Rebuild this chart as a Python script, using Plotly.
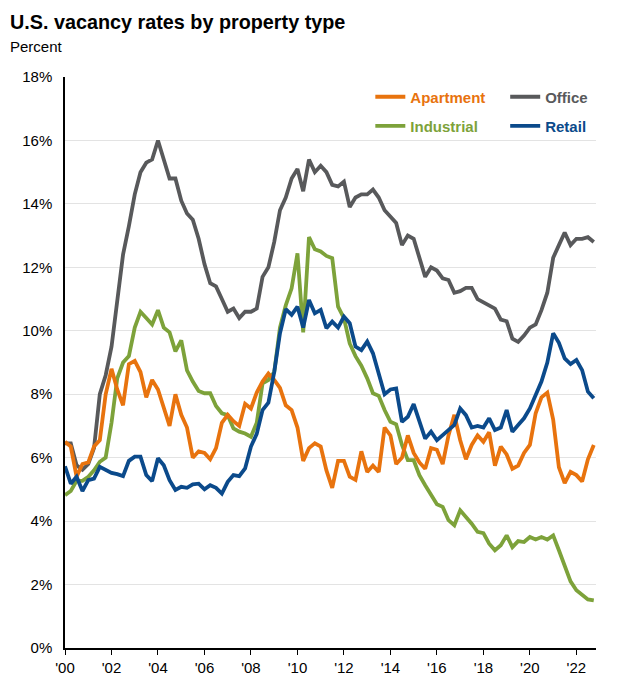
import pandas as pd
import plotly.graph_objects as go

# Quartalswerte 2000 Q1 bis 2022 Q4, Leerstandsquote in Prozent
quartale = pd.date_range("2000-01-01", periods=92, freq="QS")

apartment = [6.5, 6.35, 5.4, 5.8, 5.85, 6.35, 6.55, 8.0, 8.8, 8.15, 7.65, 8.95, 9.05, 8.7, 7.9, 8.45,
             8.15, 7.55, 7.0, 8.0, 7.35, 6.95, 6.0, 6.2, 6.15, 5.95, 6.3, 7.1, 7.35, 7.15, 7.0, 7.7,
             7.55, 8.05, 8.4, 8.65, 8.45, 8.2, 7.65, 7.5, 6.95, 5.9, 6.3, 6.45, 6.35, 5.6, 5.05, 5.9,
             5.9, 5.4, 5.3, 6.2, 5.55, 5.75, 5.55, 6.95, 6.7, 5.8, 6.0, 6.7, 6.15, 5.85, 5.65, 6.3,
             6.25, 5.8, 6.7, 7.35, 6.55, 5.95, 6.4, 6.7, 6.5, 6.8, 5.75, 6.35, 6.1, 5.65, 5.75, 6.15,
             6.4, 7.4, 7.9, 8.05, 7.2, 5.7, 5.2, 5.55, 5.45, 5.25, 5.95, 6.4]

office = [6.45, 6.45, 5.76, 5.62, 5.8, 6.3, 8.0, 8.6, 9.5, 11.0, 12.4, 13.3, 14.3, 15.0, 15.3, 15.4,
          16.0, 15.4, 14.8, 14.8, 14.1, 13.7, 13.5, 12.9, 12.1, 11.5, 11.4, 11.0, 10.6, 10.7, 10.4, 10.6,
          10.6, 10.7, 11.7, 12.0, 12.8, 13.8, 14.2, 14.8, 15.1, 14.4, 15.4, 15.0, 15.2, 15.0, 14.6, 14.55,
          14.7, 13.9, 14.2, 14.3, 14.3, 14.45, 14.2, 13.8, 13.6, 13.4, 12.7, 13.0, 12.9, 12.3, 11.7, 12.0,
          11.9, 11.65, 11.6, 11.2, 11.25, 11.35, 11.35, 11.0, 10.9, 10.8, 10.7, 10.35, 10.3, 9.75, 9.65, 9.85,
          10.1, 10.2, 10.65, 11.2, 12.3, 12.7, 13.1, 12.7, 12.9, 12.9, 12.95, 12.8]

industrial = [4.82, 4.95, 5.27, 5.27, 5.4, 5.6, 5.87, 6.0, 7.1, 8.5, 9.0, 9.2, 10.1, 10.6, 10.4, 10.2,
              10.65, 10.1, 9.95, 9.35, 9.7, 8.75, 8.4, 8.1, 8.03, 8.03, 7.63, 7.4, 7.34, 6.92, 6.82, 6.76,
              6.66, 7.1, 8.34, 8.45, 8.7, 10.1, 10.8, 11.34, 12.44, 9.95, 12.95, 12.57, 12.5, 12.36, 12.29, 10.76,
              10.4, 9.6, 9.2, 8.9, 8.5, 8.03, 7.95, 7.5, 7.13, 7.05, 6.4, 5.92, 5.92, 5.45, 5.13, 4.82,
              4.53, 4.45, 4.03, 3.87, 4.34, 4.13, 3.92, 3.66, 3.62, 3.29, 3.08, 3.24, 3.55, 3.18, 3.37, 3.34,
              3.5, 3.42, 3.5, 3.42, 3.55, 3.08, 2.55, 2.1, 1.82, 1.66, 1.53, 1.5]

retail = [5.73, 5.18, 5.4, 4.95, 5.29, 5.34, 5.71, 5.62, 5.52, 5.48, 5.42, 5.9, 6.03, 6.03, 5.45, 5.26,
          5.98, 5.76, 5.29, 4.98, 5.08, 5.05, 5.16, 5.18, 5.0, 5.13, 5.05, 4.87, 5.24, 5.45, 5.42, 5.66,
          6.35, 6.75, 7.5, 7.73, 8.7, 9.92, 10.68, 10.5, 10.76, 10.1, 10.97, 10.55, 10.66, 10.08, 10.29, 10.1,
          10.45, 10.24, 9.5, 9.39, 9.66, 9.29, 8.66, 8.0, 8.15, 8.18, 7.13, 7.29, 7.69, 7.18, 6.6, 6.82,
          6.55, 6.71, 6.87, 7.03, 7.55, 7.34, 6.95, 7.0, 6.95, 7.24, 6.87, 6.95, 7.5, 6.82, 7.03, 7.24,
          7.55, 7.95, 8.4, 9.0, 9.92, 9.62, 9.13, 8.95, 9.08, 8.76, 8.08, 7.87]

jahre = [2000, 2002, 2004, 2006, 2008, 2010, 2012, 2014, 2016, 2018, 2020, 2022]
jahr_labels = ["'00", "'02", "'04", "'06", "'08", "'10", "'12", "'14", "'16", "'18", "'20", "'22"]
y_ticks = [0, 2, 4, 6, 8, 10, 12, 14, 16, 18]
y_labels = ["0%", "2%", "4%", "6%", "8%", "10%", "12%", "14%", "16%", "18%"]

farben = {
    "Office": "#58595B",
    "Industrial": "#7DA23A",
    "Apartment": "#E8730E",
    "Retail": "#0B4A8B",
}

FONT = "Liberation Sans, Arial, sans-serif"

fig = go.Figure()

# Zeichenreihenfolge; jede Serie bekommt eine eigene Legende (2x2 Raster)
serien = [
    ("Office", office, "legend2", 0.829, 0.965),
    ("Industrial", industrial, "legend3", 0.575, 0.914),
    ("Apartment", apartment, "legend", 0.575, 0.965),
    ("Retail", retail, "legend4", 0.829, 0.914),
]

legenden = {}
for name, werte, leg, lx, ly in serien:
    fig.add_trace(go.Scatter(
        x=quartale, y=werte, mode="lines",
        name="<span style='color:%s'><b>%s</b></span>" % (farben[name], name),
        line=dict(color=farben[name], width=3.8),
        legend=leg,
    ))
    legenden[leg] = dict(
        x=lx, y=ly, xanchor="left", yanchor="middle",
        orientation="h", bgcolor="rgba(0,0,0,0)", itemwidth=30,
        font=dict(family=FONT, size=15, color="#333"),
    )

fig.update_layout(
    width=609, height=689,
    margin=dict(l=57, r=21, t=69, b=49),
    paper_bgcolor="white", plot_bgcolor="white",
    font=dict(family=FONT, size=15, color="black"),
    showlegend=True,
    **legenden,
    xaxis=dict(
        type="date",
        range=[pd.Timestamp("2000-01-01"), pd.Timestamp("2022-11-05")],
        tickvals=[pd.Timestamp("%d-01-01" % j) for j in jahre],
        ticktext=jahr_labels,
        ticks="outside", ticklen=5, tickcolor="black",
        showline=True, linecolor="black", linewidth=1.5,
        showgrid=False, zeroline=False,
        tickfont=dict(size=15),
    ),
    yaxis=dict(
        range=[0, 18],
        tickvals=y_ticks, ticktext=y_labels,
        showline=True, linecolor="black", linewidth=1.5,
        showgrid=True, gridcolor="#E3E3E3", gridwidth=1,
        zeroline=False, ticks="", ticklabelstandoff=8,
        tickfont=dict(size=15),
    ),
    annotations=[
        dict(text="<b>U.S. vacancy rates by property type</b>", xref="paper", yref="paper",
             x=-0.107, y=1.096, xanchor="left", yanchor="middle", showarrow=False,
             font=dict(family=FONT, size=19.8, color="black")),
        dict(text="Percent", xref="paper", yref="paper",
             x=-0.107, y=1.054, xanchor="left", yanchor="middle", showarrow=False,
             font=dict(family=FONT, size=15, color="black")),
    ],
)

fig.write_html("out.html")
